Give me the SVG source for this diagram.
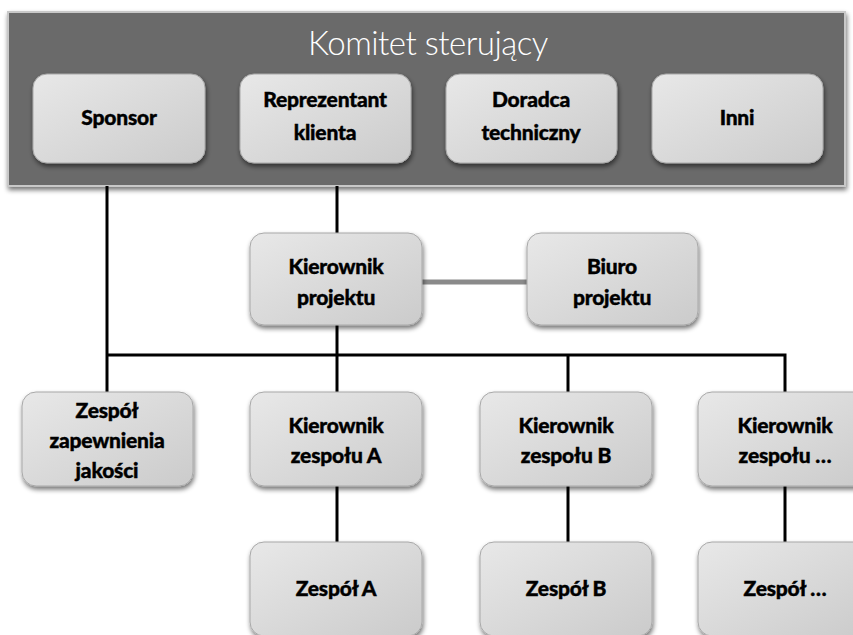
<svg xmlns="http://www.w3.org/2000/svg" width="853" height="635" viewBox="0 0 853 635">
  <defs>
    <linearGradient id="boxFill" x1="0" y1="0" x2="1" y2="1">
      <stop offset="0" stop-color="#e8e8e8"/>
      <stop offset="1" stop-color="#cbcbcb"/>
    </linearGradient>
    <filter id="shadow" x="-10%" y="-10%" width="125%" height="130%">
      <feGaussianBlur in="SourceAlpha" stdDeviation="2.5"/>
      <feOffset dx="1" dy="3" result="b"/>
      <feComponentTransfer><feFuncA type="linear" slope="0.55"/></feComponentTransfer>
      <feMerge><feMergeNode/><feMergeNode in="SourceGraphic"/></feMerge>
    </filter>
    <style>
      .box { fill: url(#boxFill); stroke: #a8a8a8; stroke-width: 1; filter: url(#shadow); }
      .lbl { font-family: "Lato", "DejaVu Sans", sans-serif; font-weight: 900; font-size: 21px; fill: #000; text-anchor: middle; letter-spacing: -0.2px; stroke: #000; stroke-width: 0.4; }
      .wire { stroke: #000; stroke-width: 3; fill: none; }
      .wire-grey { stroke: #8a8a8a; stroke-width: 5; fill: none; }
    </style>
  </defs>

  <rect width="853" height="635" fill="#ffffff"/>

  <!-- steering committee panel -->
  <g id="komitet">
    <rect x="8" y="12" width="837" height="174" fill="#6a6a6a" stroke="#c8c8c8" stroke-width="2" filter="url(#shadow)"/>
    <text x="428" y="55" font-family="Lato, 'Open Sans', sans-serif" font-size="33" font-weight="300" fill="#ffffff" text-anchor="middle" letter-spacing="-0.5">Komitet sterujący</text>
  </g>

  <!-- connectors -->
  <g id="connectors">
    <path class="wire" d="M107 186 V392"/>
    <path class="wire" d="M107 355 H785 V392"/>
    <path class="wire" d="M337 186 V233"/>
    <path class="wire" d="M337 325 V392"/>
    <path class="wire" d="M568 355 V392"/>
    <path class="wire" d="M337 486 V542"/>
    <path class="wire" d="M568 486 V542"/>
    <path class="wire" d="M785 486 V542"/>
    <path class="wire-grey" d="M422 282 H527"/>
  </g>

  <g id="sponsor">
    <rect class="box" x="33" y="74" width="172" height="89" rx="14"/>
    <text class="lbl" x="119" y="125">Sponsor</text>
  </g>
  <g id="reprezentant-klienta">
    <rect class="box" x="240" y="74" width="171" height="89" rx="14"/>
    <text class="lbl" x="325" y="107">Reprezentant</text>
    <text class="lbl" x="325" y="140">klienta</text>
  </g>
  <g id="doradca-techniczny">
    <rect class="box" x="446" y="74" width="171" height="89" rx="14"/>
    <text class="lbl" x="531" y="107">Doradca</text>
    <text class="lbl" x="531" y="140">techniczny</text>
  </g>
  <g id="inni">
    <rect class="box" x="652" y="74" width="171" height="89" rx="14"/>
    <text class="lbl" x="737" y="125">Inni</text>
  </g>

  <g id="kierownik-projektu">
    <rect class="box" x="250" y="233" width="172" height="92" rx="14"/>
    <text class="lbl" x="336" y="274">Kierownik</text>
    <text class="lbl" x="336" y="305">projektu</text>
  </g>
  <g id="biuro-projektu">
    <rect class="box" x="527" y="233" width="171" height="92" rx="14"/>
    <text class="lbl" x="612" y="274">Biuro</text>
    <text class="lbl" x="612" y="305">projektu</text>
  </g>

  <g id="zespol-jakosci">
    <rect class="box" x="22" y="392" width="171" height="94" rx="14"/>
    <text class="lbl" x="107" y="418">Zespół</text>
    <text class="lbl" x="107" y="448">zapewnienia</text>
    <text class="lbl" x="107" y="478">jakości</text>
  </g>
  <g id="kierownik-zespolu-a">
    <rect class="box" x="250" y="392" width="172" height="94" rx="14"/>
    <text class="lbl" x="336" y="433">Kierownik</text>
    <text class="lbl" x="336" y="463">zespołu A</text>
  </g>
  <g id="kierownik-zespolu-b">
    <rect class="box" x="480" y="392" width="172" height="94" rx="14"/>
    <text class="lbl" x="566" y="433">Kierownik</text>
    <text class="lbl" x="566" y="463">zespołu B</text>
  </g>
  <g id="kierownik-zespolu-n">
    <rect class="box" x="698" y="392" width="172" height="94" rx="14"/>
    <text class="lbl" x="785" y="433">Kierownik</text>
    <text class="lbl" x="785" y="463">zespołu …</text>
  </g>

  <g id="zespol-a">
    <rect class="box" x="250" y="542" width="172" height="94" rx="14"/>
    <text class="lbl" x="336" y="596">Zespół A</text>
  </g>
  <g id="zespol-b">
    <rect class="box" x="480" y="542" width="172" height="94" rx="14"/>
    <text class="lbl" x="566" y="596">Zespół B</text>
  </g>
  <g id="zespol-n">
    <rect class="box" x="698" y="542" width="172" height="94" rx="14"/>
    <text class="lbl" x="785" y="596">Zespół …</text>
  </g>
</svg>
